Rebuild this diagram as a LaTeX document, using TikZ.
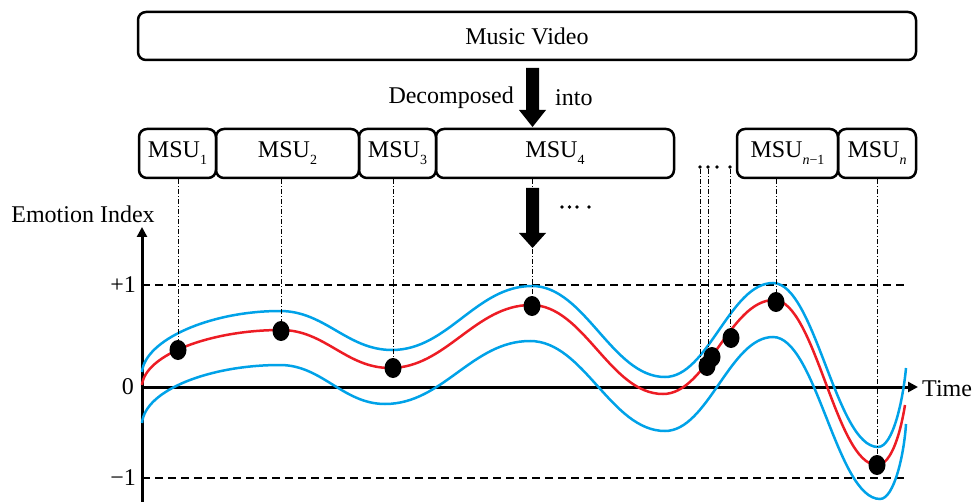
\documentclass[tikz,border=0pt]{standalone}
\usepackage{fontspec}
\setmainfont{Liberation Serif}
\usetikzlibrary{shapes.geometric,arrows.meta}
\definecolor{cred}{RGB}{237,28,36}
\definecolor{cblue}{RGB}{0,162,232}
\newcommand\msub[1]{\raisebox{-7pt}{\fontsize{14}{14}\selectfont #1}}
\begin{document}
\begin{tikzpicture}[x=1pt,y=-1pt,
 box/.style={draw, line width=2.5pt, rounded corners=8pt, inner sep=0pt, minimum height=49pt, font=\fontsize{24}{28}\selectfont},
 lbl/.style={font=\fontsize{24}{28}\selectfont, inner sep=0pt},
 pt/.style={ellipse, fill, minimum width=17pt, minimum height=20pt, inner sep=0pt},
 sdot/.style={circle, fill, minimum size=3.6pt, inner sep=0pt},
 dd/.style={line width=0.9pt, dash pattern=on 5pt off 2pt on 1pt off 2pt},
 dsh/.style={line width=1.5pt, dash pattern=on 8pt off 5pt},
 axis/.style={line width=3pt},
 crv/.style={line width=2.5pt}]
\useasboundingbox (0,0) rectangle (973,502);

% boxes
\node[box, minimum width=778pt, minimum height=48pt] (mv) at (527,36) {Music Video};
\node[box, minimum width=77pt] (m1) at (177.5,153.5) {MSU\msub{1}};
\node[box, minimum width=143pt] (m2) at (287.5,153.5) {MSU\msub{2}};
\node[box, minimum width=77pt] (m3) at (397.5,153.5) {MSU\msub{3}};
\node[box, minimum width=238pt] (m4) at (555,153.5) {MSU\msub{4}};
\node[box, minimum width=101pt] (mn1) at (787.5,153.5) {MSU\msub{\textit{n}−1}};
\node[box, minimum width=78pt] (mn) at (877,153.5) {MSU\msub{\textit{n}}};

% arrow 1
\fill (526,68) -- (539,68) -- (539,110) -- (546,110) -- (532.5,127) -- (519,110) -- (526,110) -- cycle;
\node[lbl, anchor=east] (dec) at (514,98) {Decomposed};
\node[lbl, anchor=west] (into) at (555,98) {into};

% arrow 2
\coordinate (a2top) at (532.5,188);
\coordinate (a2tip) at (532.5,249);
\fill (526,188) -- (539,188) -- (539,233) -- (546,233) -- (532.5,248) -- (519,233) -- (526,233) -- cycle;
\foreach \x/\n in {562/s1,569.5/s2,577/s3,589/s4} \node[sdot] (\n) at (\x,207) {};

% small dots near MSU n-1
\foreach \x/\n in {700/t1,708/t2,717/t3,730/t4} \node[sdot] (\n) at (\x,167) {};

% axes
\node[lbl] (ei) at (83,214) {Emotion Index};
\node[lbl, anchor=east] (lp1) at (136,285) {+1};
\node[lbl, anchor=east] (l0) at (134,387) {0};
\node[lbl, anchor=east] (lm1) at (136,478) {−1};
\node[lbl, anchor=west] (time) at (922,389) {Time};
\coordinate (p1a) at (142,285); \coordinate (p1b) at (908,285);
\coordinate (m1a) at (142,478); \coordinate (m1b) at (908,478);
\draw[dsh] (p1a) -- (p1b);
\draw[dsh] (m1a) -- (m1b);
\coordinate (ybot) at (142,502); \coordinate (ytop) at (142,227);
\coordinate (xl) at (140.5,387); \coordinate (xr) at (918,387);
\draw[axis, -{Triangle[length=10pt,width=10pt]}] (ybot) -- (ytop);
\draw[axis, -{Triangle[length=10pt,width=10pt]}] (xl) -- (xr);

% curves
\draw[crv, cblue] (142,372) .. controls (145,340) and (210,311) .. (280,311)
 .. controls (325,311) and (347,350) .. (392,350)
 .. controls (448,350) and (476,286) .. (532,286)
 .. controls (585,286) and (612,377) .. (665,377)
 .. controls (708,377) and (730,283) .. (773,283)
 .. controls (815,283) and (836,447) .. (878,447)
 .. controls (893,447) and (903,400) .. (906,368);
\draw[crv, cblue] (142,423) .. controls (145,390) and (210,365) .. (280,365)
 .. controls (322,365) and (343,404) .. (385,404)
 .. controls (443,404) and (472,341) .. (530,341)
 .. controls (584,341) and (611,431) .. (665,431)
 .. controls (708,431) and (730,337) .. (773,337)
 .. controls (816,337) and (837,499) .. (880,499)
 .. controls (894,499) and (904,455) .. (906,424);
\draw[crv, cred] (142,385) .. controls (145,355) and (210,330) .. (281,330)
 .. controls (325,330) and (346,368) .. (390,368)
 .. controls (446,368) and (475,305) .. (531,305)
 .. controls (584,305) and (610,394) .. (663,394)
 .. controls (707,394) and (730,300) .. (774,300)
 .. controls (815,300) and (836,465) .. (877,465)
 .. controls (892,465) and (901,430) .. (905,405);

% dash-dot guides
\coordinate (d1) at (178,350);
\coordinate (d2) at (281,331);
\coordinate (d3) at (393,368);
\coordinate (d4) at (532,306);
\coordinate (da) at (707,366);
\coordinate (db) at (712,357);
\coordinate (dc) at (731,338);
\coordinate (dn1) at (776,302);
\coordinate (dn) at (877,465);
\draw[dd] (d1 |- m1.south) -- (d1);
\draw[dd] (d2 |- m2.south) -- (d2);
\draw[dd] (d3 |- m3.south) -- (d3);
\draw[dd] (a2top |- m4.south) -- (a2top);
\draw[dd] (a2tip) -- (a2tip |- d4);
\draw[dd] (t1) -- (t1 |- da);
\draw[dd] (t2) -- (t2 |- db);
\draw[dd] (t4) -- (t4 |- dc);
\draw[dd] (dn1 |- mn1.south) -- (dn1);
\draw[dd] (dn |- mn.south) -- (dn);

% points
\foreach \c in {d1,d2,d3,d4,da,db,dc,dn1,dn} \node[pt] at (\c) {};
\end{tikzpicture}
\end{document}
